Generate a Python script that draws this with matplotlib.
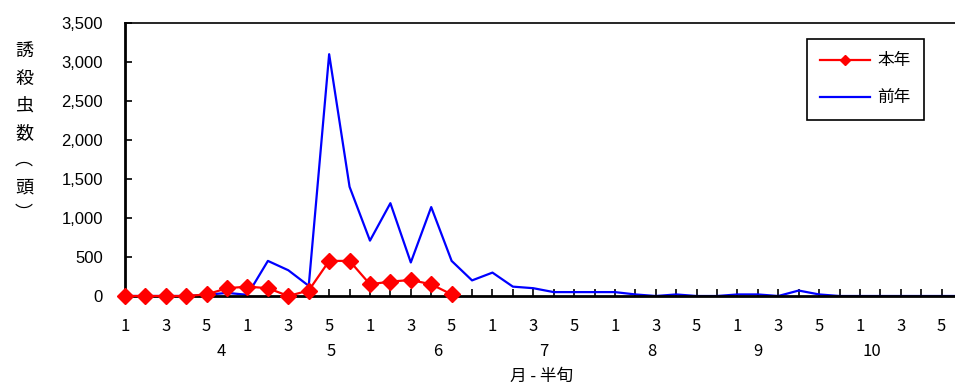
import matplotlib.pyplot as plt
import numpy as np
from matplotlib.ticker import FuncFormatter

plt.rcParams['font.family'] = ['Noto Sans CJK JP', 'DejaVu Sans']

# 4月1半旬 .. 10月6半旬 (42 half-decades)
months = ['4', '5', '6', '7', '8', '9', '10']
month_label_pos = [4.7, 10.1, 15.3, 20.5, 25.8, 31.0, 36.6]
halves = ['1', '3', '5']

this_year = [0, 0, 0, 0, 20, 100, 120, 100, 0, 70, 450, 450, 150, 185, 205, 150, 20]
last_year = [0, 0, 0, 0, 15, 40, 15, 450, 330, 130, 3100, 1400, 710, 1190, 430, 1140,
             450, 200, 300, 120, 100, 50, 50, 50, 50, 20, 0, 20, 0, 0, 20, 20, 0, 70,
             20, 0, 0, 0, 0, 0, 0, 0]

fig = plt.figure(figsize=(9.55, 3.85), dpi=100)
ax = fig.add_axes([125 / 955, 89 / 385, 837 / 955, 273 / 385])

x_last = np.arange(len(last_year))
x_this = np.arange(len(this_year))
ax.plot(x_last, last_year, color='#0000ff', lw=1.6, label='前年', zorder=2)
ax.plot(x_this, this_year, color='#ff0000', lw=1.6, marker='D', ms=8,
        label='本年', zorder=3, clip_on=False)

ax.set_xlim(0, len(last_year) - 1)
ax.set_ylim(0, 3500)
ax.set_yticks(np.arange(0, 3501, 500))
ax.yaxis.set_major_formatter(FuncFormatter(lambda v, p: f'{int(v):,}'))
ax.set_xticks(x_last)
ax.set_xticklabels([halves[(i // 2) % 3] if i % 2 == 0 else '' for i in x_last])

ax.tick_params(axis='both', direction='in', length=5, width=1.2, color='black')
ax.tick_params(axis='y', pad=16, labelsize=12)
ax.tick_params(axis='x', pad=16, labelsize=12)
for lab in ax.get_yticklabels():
    lab.set_fontfamily('Liberation Sans')

ax.spines['left'].set_linewidth(2)
ax.spines['bottom'].set_linewidth(2)
ax.spines['top'].set_linewidth(1.2)
ax.spines['right'].set_visible(False)

for pos, m in zip(month_label_pos, months):
    ax.text(pos, -0.205, m, transform=ax.get_xaxis_transform(),
            ha='center', va='center', fontsize=12)

fig.text(542 / 955, 1 - 376 / 385, '月 - 半旬', ha='center', va='center', fontsize=12)
fig.text(24 / 955, 1 - 133 / 385, '誘\n殺\n虫\n数\n︵\n頭\n︶', ha='center', va='center',
         fontsize=13, linespacing=1.65)

handles, labels = ax.get_legend_handles_labels()
leg = ax.legend(handles[::-1], labels[::-1], loc='upper left',
                bbox_to_anchor=(807 / 955, 1 - 39 / 385), bbox_transform=fig.transFigure,
                fontsize=12, frameon=True, fancybox=False, edgecolor='black',
                framealpha=1, borderpad=0.8, labelspacing=1.2, handlelength=3.0,
                handletextpad=0.4, markerscale=0.6, borderaxespad=0)
leg.get_frame().set_linewidth(1.2)

fig.savefig('out.png', dpi=100)
